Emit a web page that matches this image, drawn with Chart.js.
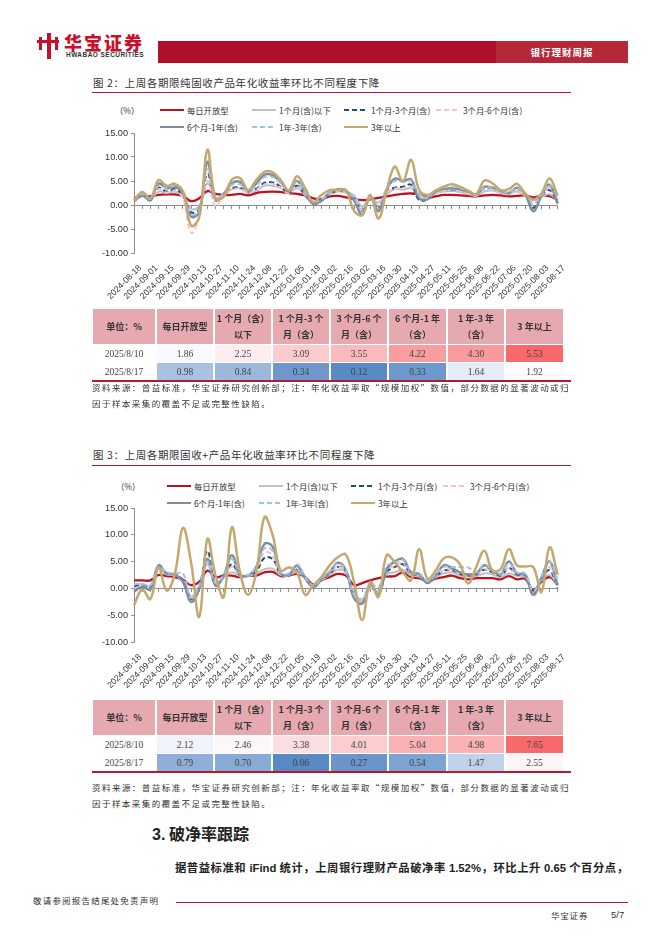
<!DOCTYPE html>
<html>
<head>
<meta charset="utf-8">
<script src="https://cdn.jsdelivr.net/npm/chart.js@4.4.1/dist/chart.umd.min.js"></script>
<style>
  body { margin: 0; background: #fff; }
  #page { position: relative; width: 662px; height: 936px; overflow: hidden; background: #fff;
          font-family: "Noto Sans CJK SC", sans-serif; color: #333; }
  .abs { position: absolute; white-space: nowrap; }
  .title { font-size: 10.5px; letter-spacing: 0.6px; line-height: 14px; color: #333; }
  .rule { position: absolute; height: 1px; background: #b5182f; }
  .src { font-size: 8.5px; letter-spacing: 1.45px; line-height: 14px; color: #333; }
  .leg { position: absolute; font-size: 8.3px; line-height: 12px; color: #333; white-space: nowrap; }
  .cell { position: absolute; display: flex; align-items: center; justify-content: center; text-align: center; }
  .head { background: #e7a9b0; font-weight: 700; font-size: 9px; line-height: 16px; color: #333; }
  .num { font-family: "Liberation Serif", serif; font-size: 9.5px; color: #444; }
</style>
</head>
<body>
<div id="page">
  <!-- header -->
  <div class="abs" style="left:47px;top:33px;width:4px;height:26px;background:#c8102e;"></div>
  <div class="abs" style="left:37px;top:40px;width:22px;height:3px;background:#c8102e;"></div>
  <div class="abs" style="left:39px;top:37px;width:3px;height:13px;background:#c8102e;"></div>
  <div class="abs" style="left:55px;top:37px;width:3px;height:13px;background:#c8102e;"></div>
  <div class="abs" style="left:64px;top:31px;font-size:18px;font-weight:900;color:#c8102e;letter-spacing:2px;line-height:22px;">华宝证券</div>
  <div class="abs" style="left:66px;top:51px;font-family:'Liberation Sans';font-size:6.5px;font-weight:700;color:#333;letter-spacing:0.45px;line-height:8px;">HWABAO SECURITIES</div>
  <div class="abs" style="left:158px;top:41px;width:338px;height:22px;background:#b0102a;"></div>
  <div class="abs" style="left:496px;top:41px;width:132px;height:22px;background:#b5283a;"></div>
  <div class="abs" style="left:496px;top:41px;width:132px;height:22px;line-height:22px;text-align:center;color:#fff;font-size:9.5px;font-weight:700;letter-spacing:1px;">银行理财周报</div>

  <!-- figure 2 -->
  <div class="abs title" style="left:93px;top:76px;">图 2：上周各期限纯固收产品年化收益率环比不同程度下降</div>
  <div class="rule" style="left:92px;top:92px;width:479px;"></div>
  <div class="leg" style="left:115px;top:104px;">（%）</div>
  <div id="leg1"></div>
  <canvas id="chart1" class="abs" width="482" height="210" style="left:93px;top:100px;"></canvas>
  <div id="table1"></div>
  <div class="abs src" style="left:92px;top:380px;width:478px;text-align:justify;text-align-last:justify;">资料来源：普益标准，华宝证券研究创新部；注：年化收益率取“规模加权”数值，部分数据的显著波动或归</div>
  <div class="abs src" style="left:92px;top:396px;">因于样本采集的覆盖不足或完整性缺陷。</div>

  <!-- figure 3 -->
  <div class="abs title" style="left:93px;top:448px;">图 3：上周各期限固收+产品年化收益率环比不同程度下降</div>
  <div class="rule" style="left:92px;top:465px;width:479px;"></div>
  <div class="leg" style="left:116px;top:480px;">（%）</div>
  <div id="leg2"></div>
  <canvas id="chart2" class="abs" width="482" height="225" style="left:93px;top:475px;"></canvas>
  <div id="table2"></div>
  <div class="abs src" style="left:92px;top:780px;width:478px;text-align:justify;text-align-last:justify;">资料来源：普益标准，华宝证券研究创新部；注：年化收益率取“规模加权”数值，部分数据的显著波动或归</div>
  <div class="abs src" style="left:92px;top:796px;">因于样本采集的覆盖不足或完整性缺陷。</div>

  <!-- section 3 -->
  <div class="abs" style="left:152px;top:822px;font-size:16px;font-weight:700;line-height:22px;color:#222;"><span style="font-family:'Liberation Sans';">3.</span> 破净率跟踪</div>
  <div class="abs" style="left:175px;top:859px;width:453px;font-size:11.3px;font-weight:700;line-height:16px;color:#222;text-align:justify;text-align-last:justify;white-space:normal;">据普益标准和 <span style="font-family:'Liberation Sans';">iFind</span> 统计，上周银行理财产品破净率 <span style="font-family:'Liberation Sans';">1.52%</span>，环比上升 <span style="font-family:'Liberation Sans';">0.65</span> 个百分点，</div>

  <!-- footer -->
  <div class="abs" style="left:33px;top:894px;font-size:8.5px;letter-spacing:1.2px;line-height:12px;color:#333;">敬请参阅报告结尾处免责声明</div>
  <div class="rule" style="left:176px;top:902px;width:452px;"></div>
  <div class="abs" style="left:551px;top:909px;font-size:8.5px;letter-spacing:0.8px;line-height:12px;color:#333;">华宝证券</div>
  <div class="abs" style="left:611px;top:909px;font-family:'Liberation Sans';font-size:9.5px;line-height:12px;color:#333;">5/7</div>
</div>

<script>
// weekly dates, labels shown every other week
const weeks = [
  '2024-08-18', '2024-08-25', '2024-09-01', '2024-09-08', '2024-09-15', '2024-09-22', '2024-09-29',
  '2024-10-06', '2024-10-13', '2024-10-20', '2024-10-27', '2024-11-03', '2024-11-10', '2024-11-17',
  '2024-11-24', '2024-12-01', '2024-12-08', '2024-12-15', '2024-12-22', '2024-12-29', '2025-01-05',
  '2025-01-12', '2025-01-19', '2025-01-26', '2025-02-02', '2025-02-09', '2025-02-16', '2025-02-23',
  '2025-03-02', '2025-03-09', '2025-03-16', '2025-03-23', '2025-03-30', '2025-04-06', '2025-04-13',
  '2025-04-20', '2025-04-27', '2025-05-04', '2025-05-11', '2025-05-18', '2025-05-25', '2025-06-01',
  '2025-06-08', '2025-06-15', '2025-06-22', '2025-06-29', '2025-07-06', '2025-07-13', '2025-07-20',
  '2025-07-27', '2025-08-03', '2025-08-10', '2025-08-17'
];

const seriesNames = ['每日开放型', '1个月(含)以下', '1个月-3个月(含)', '3个月-6个月(含)', '6个月-1年(含)', '1年-3年(含)', '3年以上'];

// 图2: 纯固收产品年化收益率 (%)
const fixedDaily  = [1.4,1.9,1.8,2.1,2.2,2.2,1.9,0.8,1.4,2.9,2.3,2.1,2.1,2.3,2.0,2.5,2.7,2.8,2.7,2.5,2.3,2.0,1.4,1.2,1.8,1.9,1.6,1.2,1.0,1.2,1.5,1.8,2.1,2.3,2.4,2.2,1.5,1.8,2.1,2.1,2.0,1.9,1.8,2.0,2.1,2.0,1.8,1.9,2.0,1.6,1.9,1.86,0.98];
const fixed1m     = [1.2,2.2,1.2,2.8,2.5,2.8,1.8,-0.8,-0.2,4.5,1.5,2.0,3.3,3.5,2.5,3.0,4.0,4.0,3.5,2.5,3.5,2.2,0.6,1.0,2.2,2.8,2.6,2.0,-0.3,1.4,0.5,2.2,3.3,3.2,3.5,2.2,1.5,2.4,2.8,2.9,2.7,2.3,2.0,2.8,3.0,2.5,2.3,2.8,2.0,1.0,1.6,2.25,0.84];
const fixed1to3m  = [1.0,2.0,1.0,3.6,2.8,3.3,2.0,-1.5,-0.8,6.5,1.2,2.2,3.5,3.6,2.8,3.4,4.6,4.7,3.8,2.5,4.0,2.0,0.4,0.9,2.3,3.0,2.8,1.5,-1.2,1.6,-0.6,2.8,3.6,3.8,4.2,1.0,1.2,2.6,3.1,3.2,3.0,2.5,2.1,3.5,3.4,2.7,2.5,3.2,2.4,-0.6,1.8,3.09,0.34];
const fixed3to6m  = [1.1,2.1,1.1,3.3,2.6,3.0,1.5,-5.8,-2.5,5.0,-0.3,2.0,3.2,3.4,2.6,3.2,4.3,4.4,3.6,2.4,3.8,2.1,0.5,1.0,2.3,3.0,2.7,1.6,-1.0,1.5,-0.3,2.6,3.4,3.5,3.8,1.8,1.4,2.5,3.0,3.3,2.9,2.4,1.9,3.2,3.1,2.5,2.2,3.0,2.1,0.2,1.8,3.55,0.12];
const fixed6to12m = [0.8,2.0,1.0,4.5,3.5,3.8,2.5,-2.4,-1.5,9.0,1.0,2.3,4.5,4.8,3.0,4.5,6.3,6.2,4.8,2.8,5.0,2.5,0.2,0.9,2.6,3.3,3.0,1.0,-2.0,1.8,-1.3,3.2,5.5,5.0,5.3,1.4,1.2,2.8,3.4,3.5,3.3,2.8,2.2,3.8,3.6,3.0,2.5,3.6,2.3,-1.3,1.9,4.22,0.33];
const fixed1to3y  = [1.0,2.3,1.3,4.0,3.6,4.0,3.0,-2.0,-1.0,7.5,1.3,2.4,4.2,4.3,3.0,4.0,5.8,5.8,4.5,3.0,4.8,2.6,0.6,1.2,2.6,3.2,3.0,1.5,-1.0,1.5,0.3,3.3,5.0,4.8,5.0,2.2,1.5,3.0,3.6,3.8,3.5,2.9,2.3,3.7,3.5,3.0,2.6,3.5,2.5,0.4,2.0,4.30,1.64];
const fixed3yPlus = [1.0,2.7,1.4,5.2,4.0,4.4,2.8,-4.3,-2.5,11.5,1.4,1.7,5.3,5.6,3.1,5.2,6.9,6.8,5.2,3.1,6.0,3.5,0.6,2.1,3.1,3.1,3.1,-1.2,-2.1,2.1,-2.8,3.0,8.0,4.9,9.4,3.1,2.1,3.0,3.8,4.3,3.8,3.0,2.3,5.1,4.5,3.1,3.3,4.4,2.4,1.2,2.4,5.53,1.92];

// 图3: 固收+产品年化收益率 (%)
const plusDaily  = [1.5,1.5,1.5,2.5,2.3,2.1,1.6,0.6,1.2,3.3,2.1,2.4,2.4,2.1,2.4,2.4,3.0,3.1,2.3,2.4,2.7,2.1,0.7,1.5,2.1,2.7,2.4,0.6,1.0,1.5,1.9,2.2,2.3,3.0,2.1,1.9,1.3,1.8,2.1,2.4,1.9,1.7,1.9,1.9,1.9,1.7,2.3,1.7,1.8,-0.3,1.2,2.12,0.79];
const plus1m     = [0.5,0.8,0.5,3.8,2.6,2.5,1.5,-1.5,0.5,4.5,0.8,2.0,3.0,2.3,2.3,2.8,3.6,3.7,2.5,2.5,3.0,2.0,0.5,1.5,2.5,3.5,3.0,-0.8,-2.0,0.0,-0.5,2.6,3.0,3.5,2.4,2.2,1.2,2.0,2.8,3.0,2.4,2.2,2.3,2.8,2.6,2.1,2.8,2.3,2.2,-1.0,1.5,2.46,0.70];
const plus1to3m  = [0.3,0.6,0.2,4.0,2.8,2.6,1.5,-2.0,0.3,7.0,0.6,2.2,4.5,2.5,2.4,3.2,5.7,5.5,2.7,2.6,3.5,1.8,0.3,1.6,2.7,4.0,3.2,-1.5,-2.8,0.5,-1.0,3.0,4.0,4.5,2.7,2.5,1.1,2.2,3.3,3.4,2.7,2.4,2.6,3.5,3.0,2.4,3.8,2.6,2.5,-1.0,1.8,3.38,0.06];
const plus3to6m  = [0.0,0.4,0.0,4.1,2.7,2.5,1.0,-2.7,0.0,5.5,0.6,2.1,4.0,2.4,2.3,3.4,6.7,6.2,2.6,2.5,3.6,1.9,0.4,1.6,2.8,4.0,3.0,-1.8,-2.5,0.6,-0.8,3.3,4.2,4.8,2.8,2.6,1.2,2.3,3.4,3.5,2.8,2.5,2.6,3.6,3.1,2.5,3.8,2.7,2.6,-1.5,1.9,4.01,0.27];
const plus6to12m = [-0.6,0.3,-0.2,4.3,2.8,2.6,1.2,-2.5,0.0,5.5,0.5,2.4,6.2,2.6,2.4,4.0,8.3,7.8,2.8,2.6,4.2,2.0,0.3,1.7,3.0,4.8,3.4,-1.8,-2.8,0.8,-1.2,3.6,5.0,5.5,3.0,2.7,1.0,2.4,4.3,3.8,3.0,2.6,2.8,4.3,3.3,2.6,5.0,2.8,2.6,-1.2,2.0,5.04,0.54];
const plus1to3y  = [0.8,0.8,0.6,4.0,3.0,2.8,2.8,-1.8,0.5,5.0,1.0,2.5,5.5,2.8,2.5,4.2,7.5,7.0,3.0,2.8,4.5,2.2,0.5,1.8,3.2,4.6,3.4,-1.2,-2.2,0.8,0.2,4.2,4.8,5.3,3.2,2.8,1.4,2.6,4.0,4.0,4.0,3.9,3.0,4.5,3.4,2.8,4.6,3.0,2.8,-0.5,2.2,4.98,1.47];
const plus3yPlus = [-3.1,-0.2,-2.0,3.9,-0.4,2.7,11.3,4.8,-5.3,9.2,2.4,-1.6,11.4,3.0,-1.2,3.0,13.3,10.0,3.3,3.9,3.0,-1.2,0.6,2.1,4.3,5.8,6.3,1.2,-5.9,1.2,-1.6,6.2,4.9,3.0,1.5,7.3,1.8,3.3,5.6,5.8,4.5,0.9,4.0,7.0,3.3,3.6,7.3,4.3,4.1,4.0,-0.7,7.65,2.55];

// tables under the charts
const tableDates = ['2025/8/10', '2025/8/17'];
const tableHeads = ['单位：%', '每日开放型', '1 个月（含）<br>以下', '1 个月-3 个<br>月（含）', '3 个月-6 个<br>月（含）', '6 个月-1 年<br>（含）', '1 年-3 年<br>（含）', '3 年以上'];
const fixedRow0810 = [1.86, 2.25, 3.09, 3.55, 4.22, 4.30, 5.53];
const fixedRow0817 = [0.98, 0.84, 0.34, 0.12, 0.33, 1.64, 1.92];
const plusRow0810  = [2.12, 2.46, 3.38, 4.01, 5.04, 4.98, 7.65];
const plusRow0817  = [0.79, 0.70, 0.06, 0.27, 0.54, 1.47, 2.55];

// line styles
const lineColors = ['#c0111f', '#bfbfbf', '#1f4e79', '#f4c2cc', '#7e8ca0', '#9dc3e6', '#c3a86f'];
const lineWidths = [2.3, 2, 2, 2, 2.5, 2, 2.5];
const lineDashes = [[], [], [5, 3], [5, 3], [], [5, 3], []];

function buildLegend(el, baseX, rowY) {
  let html = '';
  seriesNames.forEach((name, k) => {
    const row = k < 4 ? 0 : 1;
    const col = k < 4 ? k : k - 4;
    const x = baseX + col * 92;
    const y = rowY[row];
    const w = lineWidths[k];
    const bg = lineDashes[k].length
      ? 'repeating-linear-gradient(90deg,' + lineColors[k] + ' 0 5px,transparent 5px 8px)'
      : lineColors[k];
    html += '<div class="abs" style="left:' + x + 'px;top:' + (y - w / 2) + 'px;width:24px;height:' + w + 'px;background:' + bg + ';"></div>';
    html += '<div class="leg" style="left:' + (x + 27) + 'px;top:' + (y - 6) + 'px;">' + name + '</div>';
  });
  document.getElementById(el).innerHTML = html;
}

// three-colour scale: blue (min) - white (median) - red (max)
function heat(v, all) {
  const s = all.slice().sort((a, b) => a - b);
  const p = (s.length - 1) * 0.5, lo = Math.floor(p);
  const mid = s[lo] + (s[Math.ceil(p)] - s[lo]) * (p - lo);
  const mix = (c1, c2, t) => 'rgb(' + c1.map((c, i) => Math.round(c + (c2[i] - c) * t)).join(',') + ')';
  if (v <= mid) return mix([90, 138, 198], [252, 252, 255], (v - s[0]) / (mid - s[0]));
  return mix([252, 252, 255], [248, 105, 107], (v - mid) / (s[s.length - 1] - mid));
}

function buildTable(el, top, rowA, rowB) {
  const cols = [92, 156, 214, 272, 330, 388, 447, 505, 564];
  const all = rowA.concat(rowB);
  let html = '';
  const cell = (c, y, h, cls, bg, txt) => {
    html += '<div class="cell ' + cls + '" style="left:' + (cols[c] + 1) + 'px;top:' + y + 'px;width:' +
      (cols[c + 1] - cols[c] - 2) + 'px;height:' + h + 'px;' + (bg ? 'background:' + bg + ';' : '') + '">' + txt + '</div>';
  };
  tableHeads.forEach((t, c) => cell(c, top, 35, 'head', null, t));
  [rowA, rowB].forEach((row, r) => {
    const y = top + 36 + r * 18;
    cell(0, y, 17, 'num', '#fff', tableDates[r]);
    row.forEach((v, c) => cell(c + 1, y, 17, 'num', heat(v, all), v.toFixed(2)));
  });
  html += '<div class="abs" style="left:92px;top:' + (top + 71) + 'px;width:479px;height:2px;background:#b5182f;"></div>';
  document.getElementById(el).innerHTML = html;
}

function buildChart(id, series, padTop, xHeight) {
  const datasets = series.map((vals, k) => ({
    label: seriesNames[k],
    data: vals,
    borderColor: lineColors[k],
    borderWidth: lineWidths[k],
    borderDash: lineDashes[k],
    pointRadius: 0,
    tension: 0.4,
    fill: false,
    order: series.length - 1 - k,
    xAxisID: 'x',
    yAxisID: 'y'
  }));
  return new Chart(document.getElementById(id), {
    type: 'line',
    data: { labels: weeks, datasets: datasets },
    options: {
      responsive: false,
      animation: false,
      layout: { padding: { top: padTop, right: 12, left: 0, bottom: 0 } },
      plugins: { legend: { display: false }, tooltip: { enabled: false } },
      scales: {
        x: {
          axis: 'x', type: 'category', position: 'bottom', offset: false,
          grid: { display: false, drawTicks: false },
          border: { display: false },
          ticks: {
            autoSkip: false, minRotation: 45, maxRotation: 45, padding: 10, labelOffset: 6,
            color: '#333', font: { family: 'Liberation Sans', size: 8.6 },
            callback: (v, i) => (i % 2 === 0 ? weeks[i] : '')
          },
          afterFit: s => { s.height = xHeight; }
        },
        x0: {
          axis: 'x', type: 'category', position: { y: 0 }, offset: false,
          grid: { display: true, drawOnChartArea: false, drawTicks: true, tickLength: 3, color: '#8c8c8c' },
          border: { display: true, color: '#8c8c8c', width: 1 },
          ticks: { display: false }
        },
        y: {
          min: -10, max: 15,
          grid: { display: true, drawOnChartArea: false, drawTicks: true, tickLength: 3, color: '#8c8c8c' },
          border: { color: '#8c8c8c', width: 1 },
          ticks: { stepSize: 5, padding: 3, color: '#333', font: { family: 'Liberation Sans', size: 9.2 }, callback: v => v.toFixed(2) },
          afterFit: s => { s.width = 40; }
        }
      }
    }
  });
}

buildLegend('leg1', 160, [110, 127]);
buildLegend('leg2', 167, [486, 503]);
buildTable('table1', 309, fixedRow0810, fixedRow0817);
buildTable('table2', 700, plusRow0810, plusRow0817);
buildChart('chart1', [fixedDaily, fixed1m, fixed1to3m, fixed3to6m, fixed6to12m, fixed1to3y, fixed3yPlus], 33, 57);
buildChart('chart2', [plusDaily, plus1m, plus1to3m, plus3to6m, plus6to12m, plus1to3y, plus3yPlus], 33, 58);
</script>
</body>
</html>
